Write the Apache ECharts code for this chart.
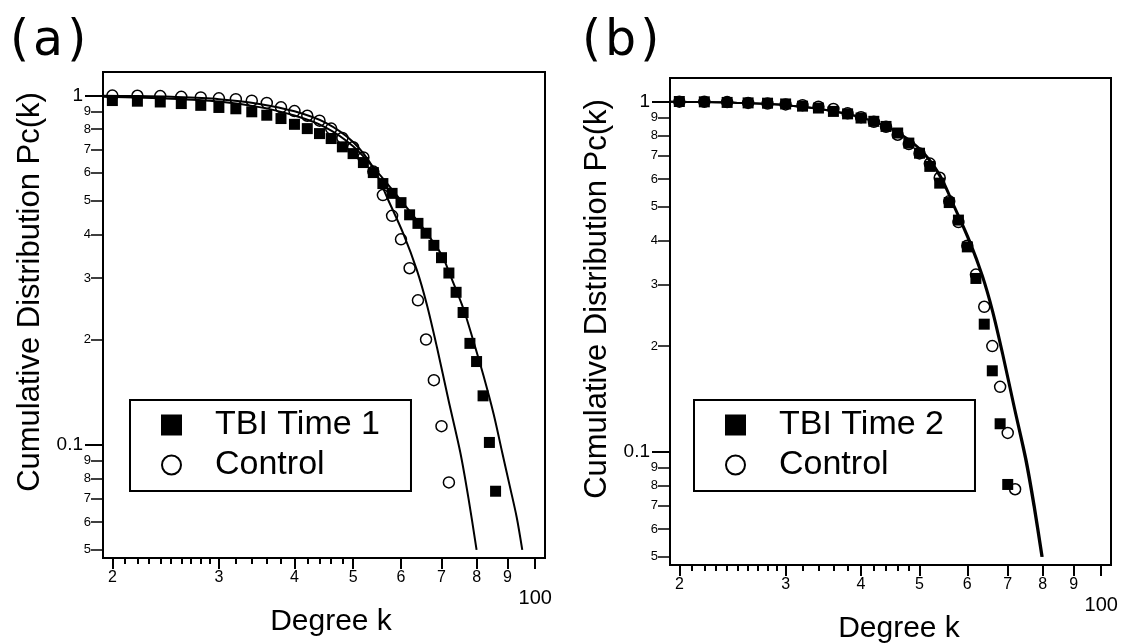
<!DOCTYPE html>
<html>
<head>
<meta charset="utf-8">
<script src="https://cdn.jsdelivr.net/npm/echarts@6/dist/echarts.min.js"></script>
<style>
  html, body { margin: 0; padding: 0; background: #fff; }
  #chart { width: 1124px; height: 643px; }
</style>
</head>
<body>
<div id="chart"></div>
<script>
// degree k of every marker (steps of 2)
const kControl = [20, 22, 24, 26, 28, 30, 32, 34, 36, 38, 40, 42, 44, 46, 48, 50, 52, 54, 56, 58, 60, 62, 64, 66, 68, 70, 72]
const pControl = [0.998, 0.997, 0.995, 0.99, 0.986, 0.98, 0.975, 0.965, 0.951, 0.924, 0.901, 0.874, 0.846, 0.803, 0.755, 0.71, 0.664, 0.605, 0.518, 0.452, 0.387, 0.32, 0.259, 0.2, 0.153, 0.113, 0.078]

const kTbi1 = [20, 22, 24, 26, 28, 30, 32, 34, 36, 38, 40, 42, 44, 46, 48, 50, 52, 54, 56, 58, 60, 62, 64, 66, 68, 70, 72, 74, 76, 78, 80, 82, 84, 86]
const pTbi1 = [0.966, 0.962, 0.957, 0.947, 0.936, 0.923, 0.915, 0.897, 0.877, 0.858, 0.826, 0.803, 0.777, 0.752, 0.712, 0.681, 0.642, 0.601, 0.559, 0.524, 0.493, 0.455, 0.43, 0.403, 0.372, 0.343, 0.31, 0.273, 0.239, 0.195, 0.173, 0.138, 0.1015, 0.0736]

const kTbi2 = [20, 22, 24, 26, 28, 30, 32, 34, 36, 38, 40, 42, 44, 46, 48, 50, 52, 54, 56, 58, 60, 62, 64, 66, 68, 70]
const pTbi2 = [0.999, 0.997, 0.993, 0.99, 0.988, 0.983, 0.969, 0.957, 0.936, 0.921, 0.896, 0.877, 0.848, 0.812, 0.76, 0.711, 0.652, 0.584, 0.514, 0.458, 0.384, 0.312, 0.231, 0.17, 0.12, 0.0805]

// fitted curves as [k, Pc(k)]
const fitTbi1 = [[19.3, 0.99], [25, 0.978], [30, 0.96], [35, 0.925], [40, 0.875], [45, 0.81], [50, 0.715], [55, 0.6], [60, 0.5], [65, 0.42], [70, 0.35], [72.4, 0.305], [76.1, 0.245], [78.9, 0.2], [82.1, 0.158], [85.4, 0.122], [88.2, 0.095], [90.8, 0.076], [93.2, 0.062], [95.2, 0.05]]
const fitControl = [[19.3, 0.997], [22, 0.995], [25, 0.99], [30, 0.975], [35, 0.945], [40, 0.9], [45, 0.835], [50, 0.735], [54, 0.62], [57.2, 0.5], [60.6, 0.4], [63.7, 0.317], [66.2, 0.252], [68.8, 0.19], [71.9, 0.134], [75.2, 0.095], [77.6, 0.07], [80, 0.05]]
const fitTbi2 = [[19.3, 0.997], [22, 0.995], [25, 0.99], [30, 0.975], [35, 0.945], [40, 0.9], [45, 0.83], [50, 0.73], [54, 0.61], [57, 0.5], [60.3, 0.4], [63.4, 0.317], [65.9, 0.252], [68.5, 0.19], [71.6, 0.134], [74.8, 0.095], [77.2, 0.07], [79.6, 0.05]]

// axis ticks
const xMajorTicks = [20, 30, 40, 50, 60, 70, 80, 90, 100]
const xMinorTicks = [21, 22, 23, 24, 25, 26, 27, 28, 29, 32, 34, 36, 38, 42, 44, 46, 48]
const yMajorTicks = [0.1, 1]
const yMajorLabels = ['0.1', '1']
const yMinorTicks = [0.05, 0.06, 0.07, 0.08, 0.09, 0.2, 0.3, 0.4, 0.5, 0.6, 0.7, 0.8, 0.9]
const yMinorLabels = ['5', '6', '7', '8', '9', '2', '3', '4', '5', '6', '7', '8', '9']

const FONT = 'Liberation Sans'
const xMin = 19.3
const xMax = 103.8
const yMin = 0.0474
const yMax = 1.166

const zip = (ks, ps) => ks.map((k, i) => [k, ps[i]])

const grids = [
  { left: 103, top: 72, width: 442, height: 486, show: true, borderColor: '#000', borderWidth: 2 },
  { left: 670, top: 78, width: 441, height: 487, show: true, borderColor: '#000', borderWidth: 2 }
]

const xAxes = []
const yAxes = []
grids.forEach((g, gi) => {
  // major x ticks with labels
  xAxes.push({
    type: 'log', logBase: 10, gridIndex: gi, position: 'bottom', min: xMin, max: xMax,
    axisLine: { show: false },
    splitLine: { show: false },
    axisTick: { show: true, inside: false, length: 11, lineStyle: { color: '#000', width: 2 }, customValues: xMajorTicks },
    axisLabel: {
      customValues: xMajorTicks,
      margin: 12,
      formatter: v => v >= 100 ? '{h|100}' : '{n|' + Math.round(v / 10) + '}',
      rich: {
        n: { fontFamily: FONT, fontSize: 16, color: '#000' },
        h: { fontFamily: FONT, fontSize: 20, color: '#000', padding: [18, 0, 0, 0] }
      }
    }
  })
  // minor x ticks
  xAxes.push({
    type: 'log', logBase: 10, gridIndex: gi, position: 'bottom', min: xMin, max: xMax,
    axisLine: { show: false },
    splitLine: { show: false },
    axisTick: { show: true, inside: false, length: 6, lineStyle: { color: '#000', width: 2 }, customValues: xMinorTicks },
    axisLabel: { show: false }
  })
  yAxes.push({
    type: 'log', logBase: 10, gridIndex: gi, position: 'left', min: yMin, max: yMax,
    axisLine: { show: false },
    splitLine: { show: false },
    axisTick: { show: true, inside: false, length: 18, lineStyle: { color: '#000', width: 2 }, customValues: yMajorTicks },
    axisLabel: {
      customValues: yMajorTicks,
      margin: 20,
      fontFamily: FONT, fontSize: 19, color: '#000',
      formatter: v => yMajorLabels[yMajorTicks.findIndex(t => Math.abs(t - v) < 1e-6)]
    }
  })
  yAxes.push({
    type: 'log', logBase: 10, gridIndex: gi, position: 'left', min: yMin, max: yMax,
    axisLine: { show: false },
    splitLine: { show: false },
    axisTick: { show: true, inside: false, length: 12, lineStyle: { color: '#000', width: 1.5 }, customValues: yMinorTicks },
    axisLabel: {
      customValues: yMinorTicks,
      margin: 12,
      fontFamily: FONT, fontSize: 13, color: '#000',
      formatter: v => yMinorLabels[yMinorTicks.findIndex(t => Math.abs(t - v) < 1e-6)]
    }
  })
})

function scatter (name, data, axis, square) {
  return {
    name: name, type: 'scatter', xAxisIndex: axis, yAxisIndex: axis, data: data,
    symbol: square ? 'rect' : 'circle', symbolSize: 11, z: square ? 3 : 2,
    itemStyle: square
      ? { color: '#000', borderColor: '#000', borderWidth: 0, opacity: 1 }
      : { color: '#fff', borderColor: '#000', borderWidth: 1.5, opacity: 1 }
  }
}
function fitLine (name, data, axis) {
  return {
    name: name, type: 'line', xAxisIndex: axis, yAxisIndex: axis, data: data,
    showSymbol: false, symbol: 'none', smooth: 0.3, z: 4,
    lineStyle: { color: '#000', width: 2 }
  }
}

function legendFor (names, left) {
  return {
    orient: 'vertical', left: left, top: 400,
    data: names, selectedMode: false,
    itemWidth: 19, itemHeight: 19, itemGap: 6,
    padding: [8, 31, 9, 31],
    borderColor: '#000', borderWidth: 2,
    itemStyle: { borderWidth: 2, opacity: 1 },
    formatter: '{t|{name}}',
    textStyle: {
      rich: { t: { fontFamily: FONT, fontSize: 34, lineHeight: 33, color: '#000', padding: [0, 0, 0, 29] } }
    }
  }
}

// panel letters, a little spread out like the original
function panelLetter (letter, left) {
  return {
    type: 'text', left: left, top: 18,
    style: {
      text: '{p|(}{l|' + letter + '}{p|)}',
      rich: {
        p: { fontFamily: 'DejaVu Sans', fontSize: 49, fill: '#000' },
        l: { fontFamily: 'DejaVu Sans', fontSize: 49, fill: '#000', padding: [0, 4, 0, 4] }
      }
    }
  }
}

const chart = echarts.init(document.getElementById('chart'), null, { renderer: 'canvas' })
chart.setOption({
  animation: false,
  backgroundColor: '#fff',
  grid: grids,
  xAxis: xAxes,
  yAxis: yAxes,
  legend: [legendFor(['TBI Time 1', 'Control'], 130), legendFor(['TBI Time 2', 'Control'], 694)],
  series: [
    scatter('Control', zip(kControl, pControl), 0, false),
    scatter('TBI Time 1', zip(kTbi1, pTbi1), 0, true),
    fitLine('fit TBI Time 1', fitTbi1, 0),
    fitLine('fit Control a', fitControl, 0),
    scatter('Control', zip(kControl, pControl), 2, false),
    scatter('TBI Time 2', zip(kTbi2, pTbi2), 2, true),
    fitLine('fit Control b', fitControl, 2),
    fitLine('fit TBI Time 2', fitTbi2, 2)
  ],
  graphic: [
    panelLetter('a', 10),
    panelLetter('b', 582),
    { type: 'text', x: 30, y: 292, rotation: Math.PI / 2, style: { text: 'Cumulative Distribution Pc(k)', fontFamily: FONT, fontSize: 31, fill: '#000', align: 'center', verticalAlign: 'middle' } },
    { type: 'text', x: 597, y: 299, rotation: Math.PI / 2, style: { text: 'Cumulative Distribution Pc(k)', fontFamily: FONT, fontSize: 31, fill: '#000', align: 'center', verticalAlign: 'middle' } },
    { type: 'text', x: 331, y: 622, style: { text: 'Degree k', fontFamily: FONT, fontSize: 30, fill: '#000', align: 'center', verticalAlign: 'middle' } },
    { type: 'text', x: 899, y: 629, style: { text: 'Degree k', fontFamily: FONT, fontSize: 30, fill: '#000', align: 'center', verticalAlign: 'middle' } }
  ]
})
</script>
</body>
</html>
